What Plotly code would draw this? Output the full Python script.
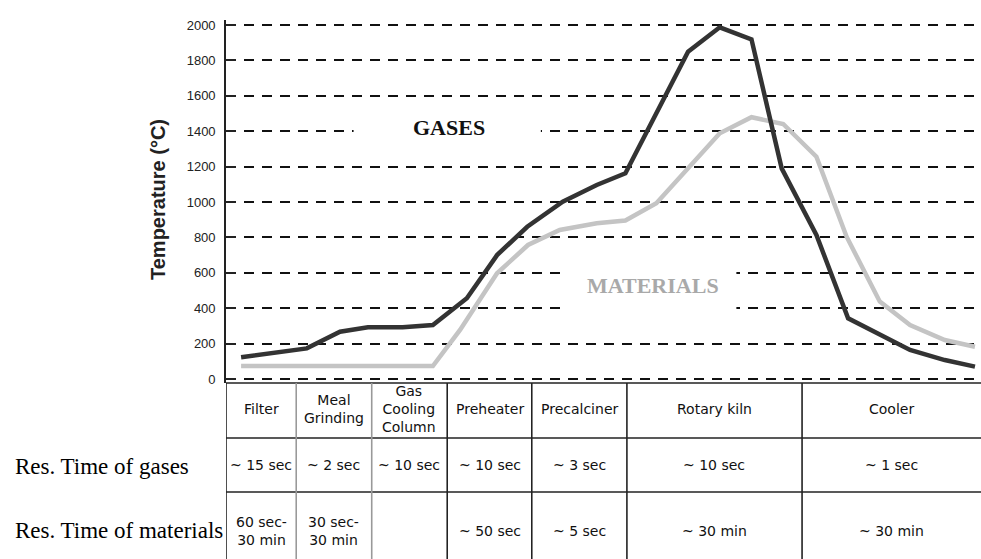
import plotly.graph_objects as go

# ---------------- data ----------------
# x = relative position along the process line (0..100), y = temperature (°C)
gas_x = [2, 10.7, 15.1, 18.8, 23.4, 27.4, 31.9, 35.9, 39.9, 44.6, 49.1, 52.9,
         61.2, 65.4, 69.6, 73.6, 78.2, 82.4, 90.6, 95.2, 99.2]
gas_y = [123, 173, 267, 292, 292, 305, 456, 700, 860, 1002, 1096, 1162,
         1849, 1987, 1919, 1190, 814, 343, 164, 107, 70]

mat_x = [2, 27.4, 31.0, 35.9, 40.0, 44.2, 49.1, 52.9, 57.0, 61.2, 65.4, 69.6,
         73.8, 78.2, 82.2, 86.6, 90.6, 95.2, 99.2]
mat_y = [73, 73, 277, 597, 757, 842, 880, 895, 993, 1190, 1388, 1479,
         1441, 1256, 804, 437, 305, 220, 182]

stages = ["Filter", "Meal<br>Grinding", "Gas<br>Cooling<br>Column", "Preheater",
          "Precalciner", "Rotary kiln", "Cooler"]
stage_edges = [0, 9.3, 19.3, 29.3, 40.5, 53.1, 76.3, 100]
res_gases = ["~ 15 sec", "~ 2 sec", "~ 10 sec", "~ 10 sec", "~ 3 sec",
             "~ 10 sec", "~ 1 sec"]
res_materials = ["60 sec-<br>30 min", "30 sec-<br>30 min", "", "~ 50 sec",
                 "~ 5 sec", "~ 30 min", "~ 30 min"]
row_labels = ["Res. Time of gases", "Res. Time of materials"]
y_ticks = list(range(0, 2001, 200))

# ---------------- geometry ----------------
W, H = 981, 559
L, T, PB = 226, 20, 383          # plot left, top, bottom (pixels)


def pyp(p):
    """pixel row -> paper y"""
    return (PB - p) / (PB - T)


def pxp(p):
    """pixel column -> paper x"""
    return (p - L) / (W - L)


SERIF = "Liberation Serif, Times New Roman, serif"
SANS = "DejaVu Sans, Verdana, sans-serif"

fig = go.Figure()
fig.add_trace(go.Scatter(x=mat_x, y=mat_y, mode="lines",
                         line=dict(color="#c4c4c4", width=4.5),
                         hoverinfo="skip", cliponaxis=False))
fig.add_trace(go.Scatter(x=gas_x, y=gas_y, mode="lines",
                         line=dict(color="#333333", width=4.5),
                         hoverinfo="skip", cliponaxis=False))

shapes = []
# gaps in the dashed grid behind the labels
shapes.append(dict(type="rect", xref="x", yref="y", x0=16.9, x1=41.7, y0=1370, y1=1430,
                   fillcolor="white", line=dict(width=0), layer="between"))
shapes.append(dict(type="rect", xref="x", yref="y", x0=45.2, x1=67.6, y0=370, y1=630,
                   fillcolor="white", line=dict(width=0), layer="between"))

# table lines
shapes.append(dict(type="line", xref="paper", yref="paper", x0=0, x1=1,
                   y0=0, y1=0, line=dict(color="#222", width=1.6)))
for p in (438, 492):
    shapes.append(dict(type="line", xref="paper", yref="paper", x0=0, x1=1,
                       y0=pyp(p), y1=pyp(p), line=dict(color="#222", width=1.6)))
for i, e in enumerate(stage_edges[:-1]):
    col = "#999" if i in (1, 2) else "#222"
    shapes.append(dict(type="line", xref="x", yref="paper", x0=e, x1=e,
                       y0=0, y1=pyp(H + 5), line=dict(color=col, width=1.6)))

annotations = []
centers = [(a + b) / 2 for a, b in zip(stage_edges[:-1], stage_edges[1:])]
cell_font = dict(family=SANS, size=14, color="#111")
for c, s, g, m in zip(centers, stages, res_gases, res_materials):
    annotations.append(dict(x=c, y=pyp(409), xref="x", yref="paper", text=s,
                            showarrow=False, font=cell_font, yanchor="middle"))
    annotations.append(dict(x=c, y=pyp(465), xref="x", yref="paper", text=g,
                            showarrow=False, font=cell_font, yanchor="middle"))
    if m:
        annotations.append(dict(x=c, y=pyp(531), xref="x", yref="paper", text=m,
                                showarrow=False, font=cell_font, yanchor="middle"))

label_font = dict(family=SERIF, size=23, color="#000")
annotations.append(dict(x=pxp(13), y=pyp(466), xref="paper", yref="paper",
                        text=row_labels[0], showarrow=False, xanchor="left",
                        yanchor="middle", font=label_font))
annotations.append(dict(x=pxp(13), y=pyp(530), xref="paper", yref="paper",
                        text=row_labels[1], showarrow=False, xanchor="left",
                        yanchor="middle", font=label_font))

annotations.append(dict(x=29.6, y=1420, xref="x", yref="y", text="<b>GASES</b>",
                        showarrow=False, font=dict(family=SERIF, size=22, color="#111")))
annotations.append(dict(x=56.6, y=530, xref="x", yref="y", text="<b>MATERIALS</b>",
                        showarrow=False, font=dict(family=SERIF, size=22, color="#a9a9a9")))

annotations.append(dict(x=pxp(158), y=pyp(200), xref="paper", yref="paper",
                        xanchor="center", yanchor="middle",
                        text="<b>Temperature (°C)</b>", textangle=-90, showarrow=False,
                        font=dict(family="Liberation Sans, Arial, sans-serif", size=20, color="#222")))

fig.update_layout(
    width=W, height=H,
    margin=dict(l=L, r=0, t=T, b=H - PB, pad=0, autoexpand=False),
    paper_bgcolor="white", plot_bgcolor="white",
    showlegend=False,
    shapes=shapes, annotations=annotations,
    xaxis=dict(range=[0, 100], visible=False, fixedrange=True, automargin=False),
    yaxis=dict(range=[-22.6, 2028.2], tickvals=y_ticks, ticktext=[str(v) for v in y_ticks],
               automargin=False,
               showgrid=True, gridcolor="#111", gridwidth=1.5, griddash="10px,8px",
               zeroline=False, showline=True, linecolor="#222", linewidth=1.6,
               ticks="inside", ticklen=10, tickcolor="#222", tickwidth=1.5,
               ticklabelstandoff=6,
               tickfont=dict(family="Liberation Sans Narrow, Arial Narrow, Liberation Sans, sans-serif",
                             size=13, color="#222"),
               fixedrange=True),
)

fig.write_html("out.html",
               config={"displayModeBar": False},
               post_script="document.body.style.margin='0px';document.body.style.overflow='hidden';")
